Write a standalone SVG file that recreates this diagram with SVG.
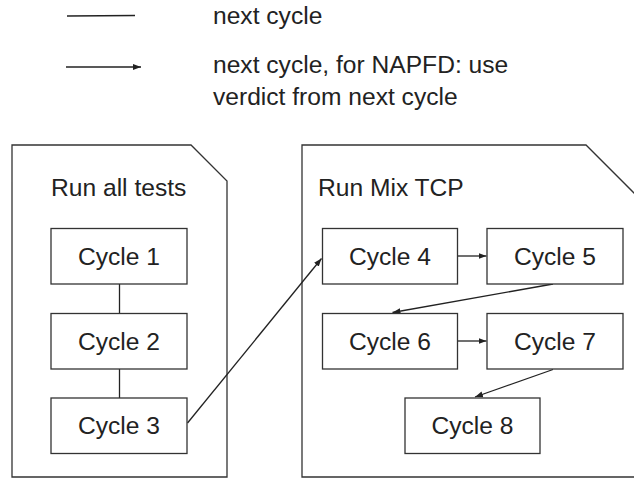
<svg xmlns="http://www.w3.org/2000/svg" width="634" height="487" viewBox="0 0 634 487">
<defs>
<style>
text{font-family:"Liberation Sans",Arial,sans-serif;font-size:24.6px;fill:#222}
.box{fill:#fff;stroke:#333;stroke-width:1.3}
.panel{fill:#fff;stroke:#333;stroke-width:1.3}
.c{text-anchor:middle}
.ln{stroke:#222;stroke-width:1.3;fill:none}
.ar{stroke:#222;stroke-width:1.3;fill:none;marker-end:url(#ah)}
</style>
<marker id="ah" markerUnits="userSpaceOnUse" markerWidth="10" markerHeight="8" refX="8" refY="3" orient="auto">
<path d="M0,0 L8,3 L0,6 Z" fill="#222"/>
</marker>
</defs>
<g id="legend">
<line class="ln" x1="67" y1="16" x2="135" y2="15.5"/>
<text x="213" y="24">next cycle</text>
<line class="ar" x1="66" y1="67" x2="141" y2="67"/>
<text x="213" y="73">next cycle, for NAPFD: use</text>
<text x="213" y="105">verdict from next cycle</text>
</g>
<g id="panel-all">
<path class="panel" d="M12,145 H191 L227,181 V477 H12 Z"/>
<text x="51" y="196">Run all tests</text>
</g>
<g id="panel-mix">
<path class="panel" d="M302,145 H586 L660,219 V477 H302 Z"/>
<text x="318" y="196">Run Mix TCP</text>
</g>
<g id="connectors">
<line class="ln" x1="119.5" y1="284" x2="119.5" y2="313"/>
<line class="ln" x1="119.5" y1="369" x2="119.5" y2="398"/>
<line class="ar" x1="187.5" y1="423" x2="321.5" y2="258.5"/>
<line class="ar" x1="457" y1="256" x2="486.5" y2="256"/>
<line class="ar" x1="553" y1="284" x2="392.5" y2="312.5"/>
<line class="ar" x1="457" y1="341" x2="486.5" y2="341"/>
<line class="ar" x1="553" y1="369.5" x2="475" y2="397"/>
</g>
<g id="cycle1"><rect class="box" x="51" y="228.5" width="136" height="55.5"/><text class="c" x="119" y="265">Cycle 1</text></g>
<g id="cycle2"><rect class="box" x="51" y="313.5" width="136" height="55.5"/><text class="c" x="119" y="350">Cycle 2</text></g>
<g id="cycle3"><rect class="box" x="51" y="398" width="136" height="55.5"/><text class="c" x="119" y="434">Cycle 3</text></g>
<g id="cycle4"><rect class="box" x="322.5" y="228.5" width="135" height="55.5"/><text class="c" x="390" y="265">Cycle 4</text></g>
<g id="cycle5"><rect class="box" x="487" y="228.5" width="136" height="55.5"/><text class="c" x="555" y="265">Cycle 5</text></g>
<g id="cycle6"><rect class="box" x="322.5" y="313.5" width="135" height="55.5"/><text class="c" x="390" y="350">Cycle 6</text></g>
<g id="cycle7"><rect class="box" x="487" y="313.5" width="136" height="55.5"/><text class="c" x="555" y="350">Cycle 7</text></g>
<g id="cycle8"><rect class="box" x="405" y="398" width="135" height="55.5"/><text class="c" x="472.5" y="434">Cycle 8</text></g>
</svg>
